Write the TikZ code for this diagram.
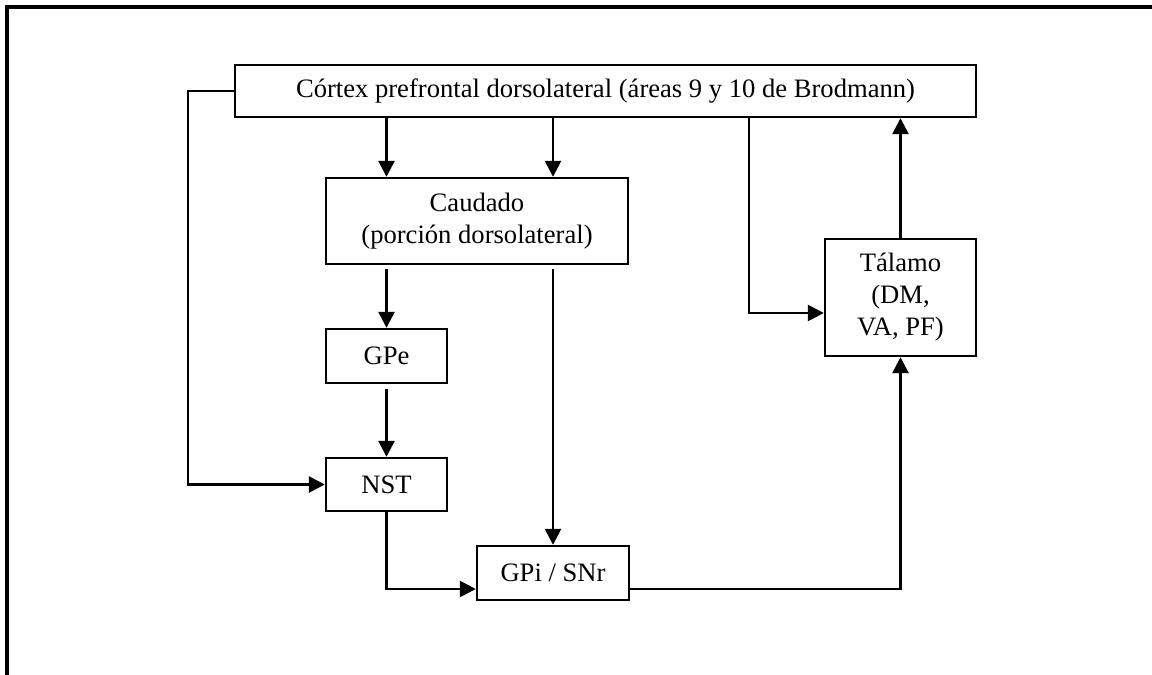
\documentclass[tikz,border=0pt]{standalone}
\usepackage{fontspec}
\setmainfont{Liberation Serif}
\usetikzlibrary{arrows.meta}
\begin{document}
\begin{tikzpicture}[x=1pt,y=-1pt,
  box/.style={draw, line width=2.4pt, inner sep=0pt, align=center,
    font=\fontsize{26.6}{32}\selectfont},
  arr/.style={line width=2.6pt, -{Triangle[length=16pt,width=16pt]}},
  frame/.style={line width=3.6pt}]
\useasboundingbox (0,0) rectangle (1152,675);
\draw[frame] (7,675) -- (7,7) -- (1152,7);

\node[box, minimum width=741pt, minimum height=52pt] (cortex) at (605.5,91)
  {Córtex prefrontal dorsolateral (áreas 9 y 10 de Brodmann)};
\node[box, minimum width=302pt, minimum height=86pt] (caudado) at (477,221)
  {Caudado\\(porción dorsolateral)};
\node[box, minimum width=121pt, minimum height=54pt] (gpe) at (386.5,356) {GPe};
\node[box, minimum width=121pt, minimum height=53pt] (nst) at (386.5,484.5) {NST};
\node[box, minimum width=152pt, minimum height=54pt] (gpi) at (553,573) {GPi / SNr};
\node[box, minimum width=151pt, minimum height=117pt] (talamo) at (900.5,297.5)
  {Tálamo\\(DM,\\VA, PF)};

\coordinate (xa) at (386.5,0);
\coordinate (xb) at (553,0);
\coordinate (xc) at (749,0);
\coordinate (xl) at (188,0);
\coordinate (yb) at (0,313);
\coordinate (yg) at (0,589);

\draw[arr] (cortex.south -| xa) -- (caudado.north -| xa);
\draw[arr] (cortex.south -| xb) -- (caudado.north -| xb);
\draw[arr, shorten <=4pt] (caudado.south -| xa) -- (gpe.north);
\draw[arr, shorten <=5pt] (gpe.south) -- (nst.north);
\draw[arr, shorten <=4pt] (caudado.south -| xb) -- (gpi.north);
\draw[arr] (cortex.west) -- (xl |- cortex.west) -- (xl |- nst.west) -- (nst.west);
\draw[arr] (nst.south) -- (nst.south |- yg) -- (gpi.west |- yg);
\draw[arr] (gpi.east |- yg) -- (talamo.south |- yg) -- (talamo.south);
\draw[arr] (cortex.south -| xc) -- (xc |- yb) -- (talamo.west |- yb);
\draw[arr] (talamo.north) -- (cortex.south -| talamo.north);
\end{tikzpicture}
\end{document}
